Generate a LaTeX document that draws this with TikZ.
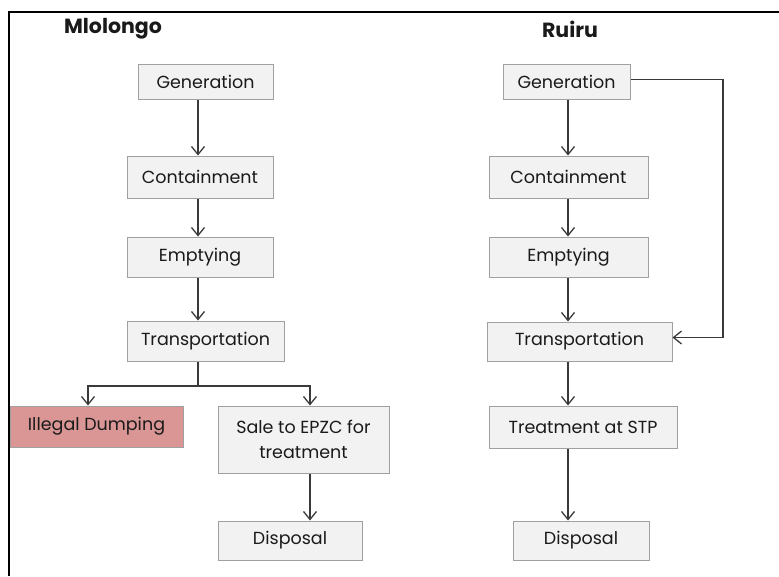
\documentclass[tikz,border=0pt]{standalone}
\usepackage{fontspec}
\setmainfont{Poppins}
\usetikzlibrary{arrows.meta,calc}
\definecolor{ink}{HTML}{1A1A1A}
\definecolor{linegray}{HTML}{3A3A3A}
\definecolor{boxfill}{HTML}{F2F2F2}
\definecolor{boxborder}{HTML}{A0A0A0}
\definecolor{dumpfill}{HTML}{D99694}

\begin{document}
\begin{tikzpicture}[
  x=1pt, y=-1pt,
  font={\fontsize{17.5}{25}\selectfont},
  >={Straight Barb[length=8pt,width=13pt]},
  stage/.style={draw=boxborder, fill=boxfill, line width=1pt, text=ink,
    align=center, inner sep=2pt, anchor=center},
  dumpbox/.style={stage, fill=dumpfill},
  title/.style={text=ink, font={\fontsize{20.5}{24}\selectfont\bfseries}, anchor=center},
  flow/.style={->, draw=linegray, line width=1.3pt}
]
\useasboundingbox (0,0) rectangle (779,576);

% frame, open to the right and below
\draw[black, line width=2.5pt] (9,576) -- (9,12) -- (779,12);

% Mlolongo
\node[title] (ltitle) at (113,29) {Mlolongo};
\node[stage, minimum width=135, minimum height=35] (lgen) at (205.5,81.5) {Generation};
\node[stage, minimum width=146, minimum height=42] (lcont) at (200,177) {Containment};
\node[stage, minimum width=146, minimum height=40] (lempt) at (200,257) {Emptying};
\node[stage, minimum width=157, minimum height=40] (ltrans) at (205.5,341) {Transportation};
\node[dumpbox, minimum width=173, minimum height=41] (ldump) at (96.5,426.5) {Illegal Dumping};
\node[stage, minimum width=171, minimum height=67] (lsale) at (303.5,439.5) {Sale to EPZC for\\treatment};
\node[stage, minimum width=144, minimum height=39] (ldisp) at (290,540.5) {Disposal};

\coordinate (ltrunk) at (198,0);
\coordinate (lsplit) at (198,386);
\coordinate (ldumpin) at (88,0);
\coordinate (lsalein) at (310,0);

\draw[flow] (lgen.south -| ltrunk) -- (lcont.north -| ltrunk);
\draw[flow] (lcont.south -| ltrunk) -- (lempt.north -| ltrunk);
\draw[flow] (lempt.south -| ltrunk) -- (ltrans.north -| ltrunk);
\draw[draw=linegray, line width=1.3pt] (ltrans.south -| ltrunk) -- (lsplit);
\draw[flow] (lsplit) -- (lsplit -| ldumpin) -- (ldump.north -| ldumpin);
\draw[flow] (lsplit) -- (lsplit -| lsalein) -- (lsale.north -| lsalein);
\draw[flow] (lsale.south -| lsalein) -- (ldisp.north -| lsalein);

% Ruiru
\node[title] (rtitle) at (570,29) {Ruiru};
\node[stage, minimum width=127, minimum height=35] (rgen) at (566.5,81.5) {Generation};
\node[stage, minimum width=159, minimum height=42] (rcont) at (568.5,177) {Containment};
\node[stage, minimum width=159, minimum height=40] (rempt) at (568.5,257) {Emptying};
\node[stage, minimum width=185, minimum height=39] (rtrans) at (579.5,341.5) {Transportation};
\node[stage, minimum width=188, minimum height=42] (rtreat) at (583,427) {Treatment at STP};
\node[stage, minimum width=136, minimum height=39] (rdisp) at (581,540.5) {Disposal};

\coordinate (rtrunk) at (568,0);
\coordinate (rbypass) at (723,0);
\coordinate (rgenout) at ($(rgen.east)+(0,-2)$);
\coordinate (rtransin) at ($(rtrans.east)+(0,-4)$);

\draw[flow] (rgen.south -| rtrunk) -- (rcont.north -| rtrunk);
\draw[flow] (rcont.south -| rtrunk) -- (rempt.north -| rtrunk);
\draw[flow] (rempt.south -| rtrunk) -- (rtrans.north -| rtrunk);
\draw[flow] (rtrans.south -| rtrunk) -- (rtreat.north -| rtrunk);
\draw[flow] (rtreat.south -| rtrunk) -- (rdisp.north -| rtrunk);
% collected straight to transport
\draw[flow] (rgenout) -- (rgenout -| rbypass) -- (rtransin -| rbypass) -- (rtransin);
\end{tikzpicture}
\end{document}
